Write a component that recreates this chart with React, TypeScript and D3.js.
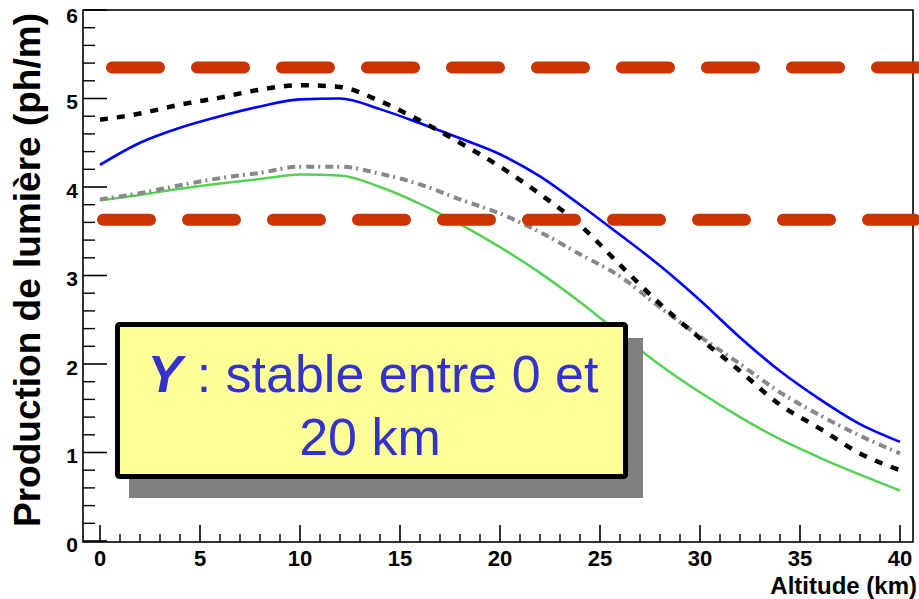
import React from 'react';
import * as d3 from 'd3';

const altitudes = [0, 2, 4, 6, 8, 10, 12, 14, 16, 18, 20, 22, 24, 26, 28, 30, 32, 34, 36, 38, 40];
const blueValues = [4.25, 4.5, 4.67, 4.8, 4.91, 4.99, 5.0, 4.88, 4.72, 4.55, 4.37, 4.12, 3.8, 3.46, 3.11, 2.72, 2.3, 1.92, 1.6, 1.32, 1.12];
const blackValues = [4.76, 4.83, 4.93, 5.01, 5.1, 5.15, 5.13, 4.97, 4.75, 4.5, 4.23, 3.92, 3.57, 3.12, 2.68, 2.29, 1.92, 1.54, 1.27, 0.99, 0.8];
const grayValues = [3.86, 3.93, 4.02, 4.1, 4.16, 4.23, 4.23, 4.15, 4.03, 3.86, 3.7, 3.49, 3.24, 2.99, 2.64, 2.31, 2.0, 1.68, 1.42, 1.19, 0.99];
const greenValues = [3.85, 3.91, 3.98, 4.04, 4.09, 4.14, 4.13, 4.0, 3.81, 3.58, 3.32, 3.03, 2.7, 2.34, 1.99, 1.68, 1.4, 1.15, 0.94, 0.75, 0.57];
const refLevels = [5.35, 3.63];
const refStarts = [0.6, 0.15];
const xTicks = [0, 5, 10, 15, 20, 25, 30, 35, 40];
const yTicks = [0, 1, 2, 3, 4, 5, 6];
const xTitle = 'Altitude (km)';
const yTitle = 'Production de lumière (ph/m)';
const noteLead = 'Y';
const noteLine1 = ' : stable entre 0 et';
const noteLine2 = '20 km';

const W = 919;
const H = 599;
const FONT = '"Liberation Sans", Arial, Helvetica, sans-serif';

export default function App() {
  const x = d3.scaleLinear().domain([0, 40]).range([100, 900]);
  const y = d3.scaleLinear().domain([0, 6]).range([541, 10]);
  const frame = { x0: 83, x1: 913, y0: 10, y1: 542 };

  const series = [
    { vals: greenValues, color: '#55d055', width: 2.5, dash: null },
    { vals: blueValues, color: '#0000ff', width: 2.6, dash: null },
    { vals: grayValues, color: '#888888', width: 4, dash: '8 4 2 5' },
    { vals: blackValues, color: '#000000', width: 4.5, dash: '8 9' },
  ];

  const line = d3
    .line<number>()
    .x((_, i) => x(altitudes[i]))
    .y((d) => y(d))
    .curve(d3.curveMonotoneX);

  const minorX = d3.range(0, 41, 1).filter((v) => v % 5 !== 0);
  const minorY = d3
    .range(0, 6.01, 0.2)
    .map((v) => Math.round(v * 10) / 10)
    .filter((v) => Math.abs(v - Math.round(v)) > 1e-6);

  return (
    <svg width={W} height={H} style={{ position: 'absolute', left: 0, top: 0, background: '#fff' }} fontFamily={FONT}>
      <rect x={0} y={0} width={W} height={H} fill="#ffffff" />
      {/* frame */}
      <rect x={frame.x0} y={frame.y0} width={frame.x1 - frame.x0} height={frame.y1 - frame.y0} fill="none" stroke="#000" strokeWidth={1.6} />
      {/* y ticks */}
      {yTicks.map((t) => (
        <line key={'yt' + t} x1={frame.x0} x2={frame.x0 + 24} y1={y(t)} y2={y(t)} stroke="#000" strokeWidth={1.6} />
      ))}
      {minorY.map((t) => (
        <line key={'ym' + t} x1={frame.x0} x2={frame.x0 + 12} y1={y(t)} y2={y(t)} stroke="#000" strokeWidth={1.4} />
      ))}
      {yTicks.map((t) => (
        <text key={'yl' + t} x={78} y={Math.max(y(t) + 3, 15)} textAnchor="end" dominantBaseline="central" fontSize={21} fontWeight="bold" fill="#000">
          {t}
        </text>
      ))}
      {/* x ticks */}
      {xTicks.map((t) => (
        <line key={'xt' + t} x1={x(t)} x2={x(t)} y1={frame.y1} y2={frame.y1 - 17} stroke="#000" strokeWidth={1.6} />
      ))}
      {minorX.map((t) => (
        <line key={'xm' + t} x1={x(t)} x2={x(t)} y1={frame.y1} y2={frame.y1 - 8} stroke="#000" strokeWidth={1.4} />
      ))}
      {xTicks.map((t) => (
        <text key={'xl' + t} x={x(t)} y={566} textAnchor="middle" fontSize={22} fontWeight="bold" fill="#000">
          {t}
        </text>
      ))}
      <text x={917} y={594} textAnchor="end" fontSize={24} fontWeight="bold" fill="#000">
        {xTitle}
      </text>
      <text transform={`translate(40, 270) rotate(-90)`} textAnchor="middle" fontSize={37} fontWeight="bold" fill="#000">
        {yTitle}
      </text>
      {/* curves */}
      {series.map((s, i) => (
        <path
          key={'s' + i}
          d={line(s.vals) || ''}
          fill="none"
          stroke={s.color}
          strokeWidth={s.width}
          strokeDasharray={s.dash || undefined}
        />
      ))}
      {/* red reference levels */}
      {refLevels.map((v, i) => (
        <line
          key={'ref' + i}
          x1={x(refStarts[i])}
          x2={x(41)}
          y1={y(v)}
          y2={y(v)}
          stroke="#cc3300"
          strokeWidth={12}
          strokeLinecap="round"
          strokeDasharray="47 38"
        />
      ))}
      {/* note box */}
      <rect x={129} y={338} width={514} height={160} fill="#808080" />
      <rect x={117.5} y={324.5} width={508} height={152} fill="#ffff99" stroke="#000" strokeWidth={5} rx={2} />
      <text x={373} y={392} textAnchor="middle" fontSize={52} fill="#3333cc">
        <tspan fontWeight="bold" fontStyle="italic">{noteLead}</tspan>
        <tspan>{noteLine1}</tspan>
      </text>
      <text x={370} y={455} textAnchor="middle" fontSize={52} fill="#3333cc">
        {noteLine2}
      </text>
    </svg>
  );
}
